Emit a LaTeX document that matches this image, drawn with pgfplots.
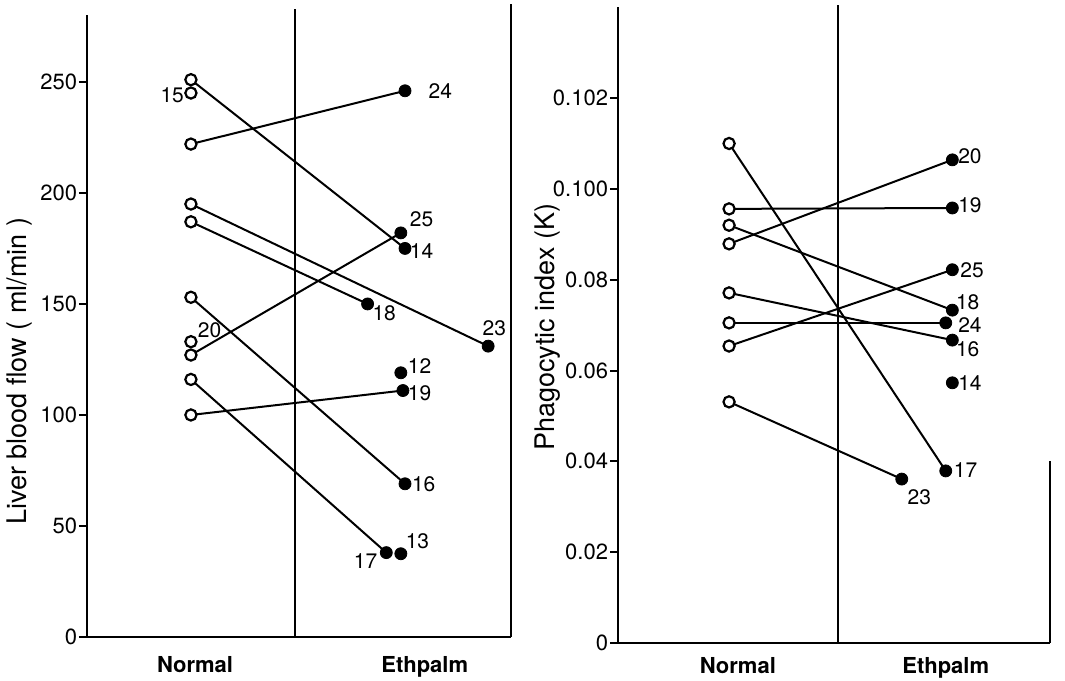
\documentclass[border=0pt]{standalone}
\usepackage{fontspec}
\setmainfont{TeX Gyre Heros}
\usepackage{pgfplots}
\pgfplotsset{compat=1.18}

\tikzset{lab/.style={font=\fontsize{10.5}{12}\selectfont}}
\pgfplotsset{
  panel/.style={
    scale only axis, anchor=south west, clip=false,
    axis line style={draw=none},
    xmin=0, ymin=0,
    xtick style={draw=none},
    ytick pos=left, tick align=outside, major tick length=4pt,
    ytick style={line width=1pt, black},
    yticklabel style={font=\fontsize{11}{12}\selectfont, inner xsep=0.8pt},
    every axis y label/.style={rotate=90, anchor=center,
      font=\fontsize{13.5}{15}\selectfont},
  },
  pair/.style={black, line width=1pt, no marks},
  pre/.style={only marks, mark=*, mark size=2.8pt,
    mark options={fill=white, draw=black, line width=1.1pt}},
  post/.style={only marks, mark=*, mark size=3pt, black},
}

\begin{document}
\begin{tikzpicture}
\useasboundingbox (0,0) rectangle (532.5pt,340pt);

% left: liver blood flow
\begin{axis}[panel, at={(43.5pt,21.5pt)},
  width=212pt, height=316.4pt,
  xmax=2.04, ymax=285,
  ytick={0,50,100,150,200,250},
  yticklabels={0,50,100,150,200,250},
  xtick={0.52,1.625}, xticklabels={Normal,Ethpalm},
  xticklabel style={font=\fontsize{11}{13}\selectfont\bfseries, yshift=-2pt},
  ylabel={Liver blood flow ( ml/min )},
  ylabel style={at={(rel axis cs:-0.16,0.42)}},
]
\draw[line width=1.2pt] (axis cs:0,280) -- (axis cs:0,0) -- (axis cs:2.04,0);
\draw[line width=0.8pt] (axis cs:1,0) -- (axis cs:1,283);
\draw[line width=1pt] (axis cs:2.04,0) -- (axis cs:2.04,285);

\addplot[pair] coordinates {(0.5,251) (1.53,175)};
\addplot[pair] coordinates {(0.5,222) (1.53,246)};
\addplot[pair] coordinates {(0.5,195) (1.93,131)};
\addplot[pair] coordinates {(0.5,187) (1.35,150)};
\addplot[pair] coordinates {(0.5,153) (1.53,69)};
\addplot[pair] coordinates {(0.5,127) (1.51,182)};
\addplot[pair] coordinates {(0.5,116) (1.44,38)};
\addplot[pair] coordinates {(0.5,100) (1.52,111)};

\addplot[pre] coordinates {(0.5,251) (0.5,245) (0.5,222) (0.5,195) (0.5,187)
  (0.5,153) (0.5,133) (0.5,127) (0.5,116) (0.5,100)};
\addplot[post] coordinates {(1.53,175) (1.53,246) (1.93,131) (1.35,150)
  (1.53,69) (1.51,182) (1.44,38) (1.52,111) (1.51,119) (1.51,37.5)};

\node[lab] at (axis cs:1.70,246) {24};
\node[lab] at (axis cs:0.41,244) {15};
\node[lab] at (axis cs:1.61,188) {25};
\node[lab] at (axis cs:1.61,174) {14};
\node[lab] at (axis cs:1.43,146) {18};
\node[lab] at (axis cs:1.96,139) {23};
\node[lab] at (axis cs:0.59,138) {20};
\node[lab] at (axis cs:1.60,122) {12};
\node[lab] at (axis cs:1.60,110) {19};
\node[lab] at (axis cs:1.62,69) {16};
\node[lab] at (axis cs:1.59,43) {13};
\node[lab] at (axis cs:1.34,34) {17};
\end{axis}

% right: phagocytic index
\begin{axis}[panel, at={(309pt,18.5pt)},
  width=216pt, height=319pt,
  xmax=1.964, ymax=0.1405,
  ytick={0,0.02,0.04,0.06,0.08,0.1,0.12},
  yticklabels={0,0.02,0.04,0.06,0.08,0.100,0.102},
  xtick={0.545,1.49}, xticklabels={Normal,Ethpalm},
  xticklabel style={font=\fontsize{11}{13}\selectfont\bfseries, yshift=0.5pt},
  ylabel={Phagocytic index (K)},
  ylabel style={at={(rel axis cs:-0.164,0.495)}},
]
\draw[line width=1.2pt] (axis cs:0,0.14) -- (axis cs:0,0) -- (axis cs:1.964,0);
\draw[line width=0.8pt] (axis cs:1,0) -- (axis cs:1,0.1405);
\draw[line width=1pt] (axis cs:1.964,0) -- (axis cs:1.964,0.040);

\addplot[pair] coordinates {(0.505,0.1100) (1.49,0.0379)};
\addplot[pair] coordinates {(0.505,0.0956) (1.52,0.0958)};
\addplot[pair] coordinates {(0.505,0.0920) (1.52,0.0733)};
\addplot[pair] coordinates {(0.505,0.0879) (1.52,0.1064)};
\addplot[pair] coordinates {(0.505,0.0771) (1.52,0.0667)};
\addplot[pair] coordinates {(0.505,0.0705) (1.49,0.0705)};
\addplot[pair] coordinates {(0.505,0.0654) (1.52,0.0822)};
\addplot[pair] coordinates {(0.505,0.0531) (1.29,0.0361)};

\addplot[pre] coordinates {(0.505,0.1100) (0.505,0.0956) (0.505,0.0920)
  (0.505,0.0879) (0.505,0.0771) (0.505,0.0705) (0.505,0.0654) (0.505,0.0531)};
\addplot[post] coordinates {(1.49,0.0379) (1.52,0.0958) (1.52,0.0733)
  (1.52,0.1064) (1.52,0.0667) (1.49,0.0705) (1.52,0.0822) (1.29,0.0361)
  (1.52,0.0573)};

\node[lab] at (axis cs:1.60,0.1073) {20};
\node[lab] at (axis cs:1.60,0.0963) {19};
\node[lab] at (axis cs:1.61,0.0822) {25};
\node[lab] at (axis cs:1.59,0.0751) {18};
\node[lab] at (axis cs:1.60,0.0700) {24};
\node[lab] at (axis cs:1.59,0.0648) {16};
\node[lab] at (axis cs:1.60,0.0573) {14};
\node[lab] at (axis cs:1.58,0.0381) {17};
\node[lab] at (axis cs:1.37,0.0322) {23};
\end{axis}
\end{tikzpicture}
\end{document}
